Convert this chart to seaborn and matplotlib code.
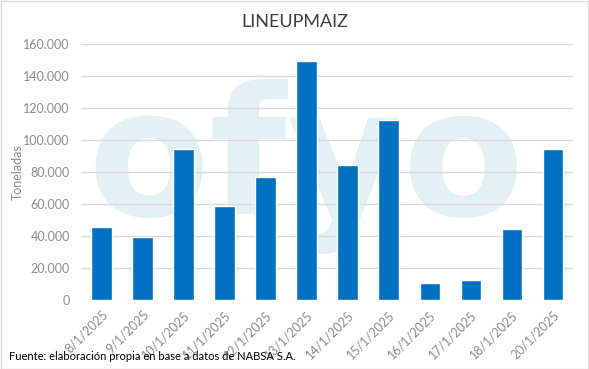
import matplotlib
matplotlib.use("Agg")
import matplotlib.pyplot as plt
import seaborn as sns
import pandas as pd
from matplotlib.ticker import FuncFormatter

# datos
fechas = ["8/1/2025", "9/1/2025", "10/1/2025", "11/1/2025", "12/1/2025", "13/1/2025",
          "14/1/2025", "15/1/2025", "16/1/2025", "17/1/2025", "18/1/2025", "20/1/2025"]
toneladas = [45600, 39400, 94400, 58900, 77000, 149400,
             84400, 112500, 10600, 12500, 44400, 94400]

sns.set_style("white")
plt.rcParams['font.family'] = ['Lato', 'DejaVu Sans']

df = pd.DataFrame({"fecha": fechas, "ton": toneladas})

fig = plt.figure(figsize=(5.89, 3.69), dpi=100)
ax = fig.add_axes([0.1375, 0.187, 0.836, 0.694])

# marca de agua
ax.text(0.457, 0.33, "ofyo", transform=ax.transAxes, ha="center", va="baseline",
        fontsize=128, fontweight="bold", color="#e3f1f5", zorder=0,
        family="DejaVu Sans", clip_on=True)

sns.barplot(data=df, x="fecha", y="ton", color="#0070c0", width=0.5,
            saturation=1, ax=ax, zorder=3)

ax.set_ylim(0, 160000)
ax.set_yticks(range(0, 160001, 20000))
ax.yaxis.set_major_formatter(FuncFormatter(lambda v, p: f"{int(v):,}".replace(",", ".")))
ax.grid(axis="y", color="#d9d9d9", linewidth=1, zorder=1)
ax.set_axisbelow(True)
for s in ax.spines.values():
    s.set_visible(False)
ax.tick_params(axis="y", length=0, labelsize=9, labelcolor="#8c8c8c", pad=8)
ax.tick_params(axis="x", length=0, labelsize=9, labelcolor="#8c8c8c", pad=6)
plt.setp(ax.get_xticklabels(), rotation=45, ha="right", rotation_mode="anchor")
ax.set_xlabel("")
ax.set_ylabel("Toneladas", fontsize=9, color="#8c8c8c")
ax.yaxis.set_label_coords(-0.115, 0.5)

fig.text(0.5, 0.94, "LINEUPMAIZ", ha="center", va="center", fontsize=13, color="#404040")
fig.text(0.015, 0.02, "Fuente: elaboración propia en base a datos de NABSA S.A.",
         ha="left", va="bottom", fontsize=8, color="#000000")

# marco
fig.patches.append(plt.Rectangle((0.001, 0.001), 0.997, 0.996, transform=fig.transFigure,
                                 fill=False, edgecolor="#d9d9d9", linewidth=1))

fig.savefig("out.png", dpi=100)
